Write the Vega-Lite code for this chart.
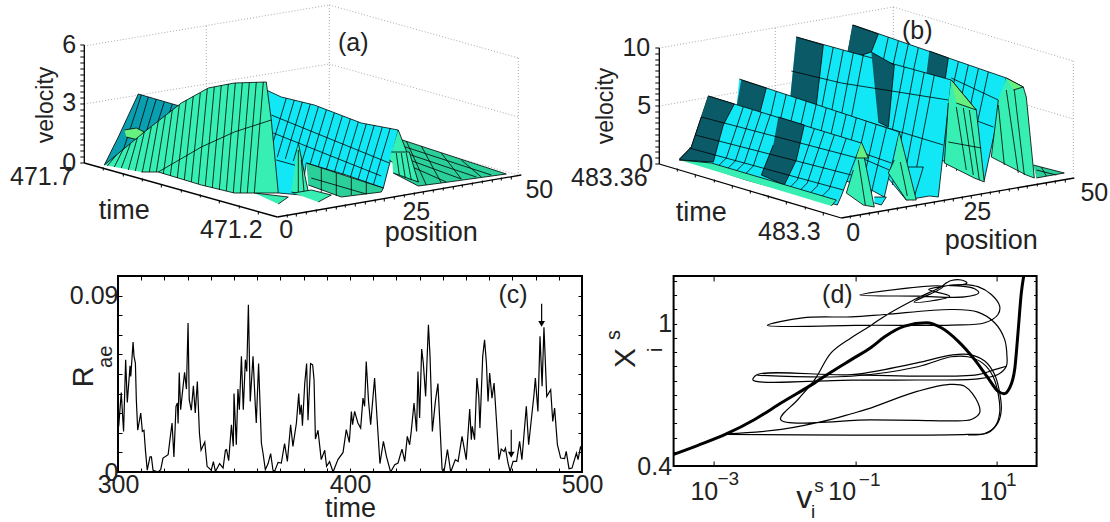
{"$schema":"https://vega.github.io/schema/vega-lite/v6.json","background":"white","padding":{"left":10,"top":0,"right":0,"bottom":0},"bounds":"flush","columns":2,"spacing":{"row":16,"column":91.6},"config":{"font":"Liberation Sans","view":{"stroke":null},"text":{"font":"Liberation Sans","color":"#222"}},
"datasets":{
"aGrid":[{"x":83,"y":46,"x2":328,"y2":5},{"x":328,"y":5,"x2":517,"y2":58},{"x":83,"y":104,"x2":328,"y2":64},{"x":328,"y":64,"x2":517,"y2":117},{"x":328,"y":122,"x2":517,"y2":175},{"x":517,"y":58,"x2":517,"y2":175},{"x":328,"y":5,"x2":328,"y2":122},{"x":205,"y":26,"x2":205,"y2":100}],
"aAxis":[{"x":83,"y":45,"x2":83,"y2":163},{"x":83,"y":163,"x2":276,"y2":217},{"x":276,"y":217,"x2":520,"y2":175}],
"aTickV":[{"x":81,"y":45},{"x":81,"y":51},{"x":81,"y":57},{"x":81,"y":63},{"x":81,"y":69},{"x":81,"y":75},{"x":81,"y":81},{"x":81,"y":86},{"x":81,"y":92},{"x":81,"y":98},{"x":81,"y":104},{"x":81,"y":110},{"x":81,"y":116},{"x":81,"y":122},{"x":81,"y":128},{"x":81,"y":134},{"x":81,"y":140},{"x":81,"y":145},{"x":81,"y":151},{"x":81,"y":157},{"x":81,"y":163}],
"aTickH":[{"x":102,"y":169},{"x":122,"y":175},{"x":141,"y":180},{"x":160,"y":186},{"x":180,"y":191},{"x":199,"y":196},{"x":218,"y":202},{"x":238,"y":207},{"x":257,"y":213},{"x":286,"y":216},{"x":295,"y":215},{"x":305,"y":213},{"x":315,"y":211},{"x":325,"y":210},{"x":335,"y":208},{"x":344,"y":206},{"x":354,"y":205},{"x":364,"y":203},{"x":374,"y":201},{"x":383,"y":200},{"x":393,"y":198},{"x":403,"y":196},{"x":413,"y":194},{"x":422,"y":193},{"x":432,"y":191},{"x":442,"y":189},{"x":452,"y":188},{"x":461,"y":186},{"x":471,"y":184},{"x":481,"y":182},{"x":491,"y":181},{"x":500,"y":179},{"x":510,"y":178}],
"aSurf":[
{"i":1,"c":"f","x":398,"y":139},{"i":1,"c":"f","x":505,"y":174},{"i":1,"c":"f","x":440,"y":183},{"i":1,"c":"f","x":417,"y":186},{"i":1,"c":"f","x":392,"y":173},
{"i":2,"c":"n","x":398,"y":145},{"i":2,"c":"n","x":490,"y":175},{"i":3,"c":"n","x":398,"y":151},{"i":3,"c":"n","x":475,"y":177},{"i":4,"c":"n","x":400,"y":157},{"i":4,"c":"n","x":460,"y":179},{"i":5,"c":"n","x":402,"y":163},{"i":5,"c":"n","x":445,"y":182},{"i":6,"c":"n","x":440,"y":183},{"i":6,"c":"n","x":420,"y":146},{"i":7,"c":"n","x":460,"y":179},{"i":7,"c":"n","x":440,"y":153},{"i":8,"c":"n","x":480,"y":177},{"i":8,"c":"n","x":460,"y":160},{"i":9,"c":"n","x":425,"y":185},{"i":9,"c":"n","x":405,"y":141},
{"i":10,"c":"e","x":103,"y":165},{"i":10,"c":"e","x":117,"y":137},{"i":10,"c":"e","x":137,"y":94},{"i":10,"c":"e","x":185,"y":108},{"i":10,"c":"e","x":200,"y":165},
{"i":11,"c":"n","x":140,"y":95},{"i":11,"c":"n","x":122,"y":150},{"i":12,"c":"n","x":147,"y":97},{"i":12,"c":"n","x":130,"y":155},{"i":13,"c":"n","x":155,"y":99},{"i":13,"c":"n","x":138,"y":155},{"i":14,"c":"n","x":163,"y":102},{"i":14,"c":"n","x":146,"y":155},{"i":15,"c":"n","x":171,"y":104},{"i":15,"c":"n","x":154,"y":155},{"i":16,"c":"n","x":179,"y":106},{"i":16,"c":"n","x":162,"y":155},
{"i":17,"c":"l","x":123,"y":130},{"i":17,"c":"l","x":135,"y":128},{"i":17,"c":"l","x":147,"y":134},{"i":17,"c":"l","x":137,"y":140},{"i":17,"c":"l","x":125,"y":137},
{"i":18,"c":"c","x":265,"y":90},{"i":18,"c":"c","x":280,"y":97},{"i":18,"c":"c","x":313,"y":105},{"i":18,"c":"c","x":360,"y":123},{"i":18,"c":"c","x":397,"y":130},{"i":18,"c":"c","x":382,"y":188},{"i":18,"c":"c","x":345,"y":175},{"i":18,"c":"c","x":305,"y":163},{"i":18,"c":"c","x":300,"y":195},{"i":18,"c":"c","x":277,"y":193},
{"i":19,"c":"n","x":285,"y":98},{"i":19,"c":"n","x":268,"y":155},{"i":20,"c":"n","x":293,"y":100},{"i":20,"c":"n","x":276,"y":157},{"i":21,"c":"n","x":301,"y":102},{"i":21,"c":"n","x":284,"y":159},{"i":22,"c":"n","x":309,"y":104},{"i":22,"c":"n","x":292,"y":161},{"i":23,"c":"n","x":317,"y":107},{"i":23,"c":"n","x":300,"y":164},{"i":24,"c":"n","x":325,"y":110},{"i":24,"c":"n","x":308,"y":167},{"i":25,"c":"n","x":333,"y":113},{"i":25,"c":"n","x":316,"y":170},{"i":26,"c":"n","x":341,"y":116},{"i":26,"c":"n","x":324,"y":173},{"i":27,"c":"n","x":349,"y":119},{"i":27,"c":"n","x":332,"y":176},{"i":28,"c":"n","x":357,"y":122},{"i":28,"c":"n","x":340,"y":179},{"i":29,"c":"n","x":365,"y":124},{"i":29,"c":"n","x":348,"y":181},{"i":30,"c":"n","x":373,"y":125},{"i":30,"c":"n","x":356,"y":182},{"i":31,"c":"n","x":381,"y":127},{"i":31,"c":"n","x":364,"y":184},{"i":32,"c":"n","x":389,"y":128},{"i":32,"c":"n","x":372,"y":185},
{"i":34,"c":"n","x":270,"y":115},{"i":34,"c":"n","x":388,"y":163},{"i":35,"c":"n","x":272,"y":133},{"i":35,"c":"n","x":380,"y":176},{"i":36,"c":"n","x":275,"y":160},{"i":36,"c":"n","x":300,"y":167},
{"i":37,"c":"f","x":305,"y":163},{"i":37,"c":"f","x":382,"y":188},{"i":37,"c":"f","x":380,"y":192},{"i":37,"c":"f","x":340,"y":197},{"i":37,"c":"f","x":307,"y":185},
{"i":38,"c":"n","x":310,"y":178},{"i":38,"c":"n","x":365,"y":194},{"i":39,"c":"n","x":320,"y":168},{"i":39,"c":"n","x":320,"y":192},{"i":40,"c":"n","x":335,"y":173},{"i":40,"c":"n","x":335,"y":196},{"i":41,"c":"n","x":350,"y":178},{"i":41,"c":"n","x":350,"y":195},{"i":42,"c":"n","x":365,"y":183},{"i":42,"c":"n","x":365,"y":194},
{"i":47,"c":"g","x":397,"y":130},{"i":47,"c":"g","x":417,"y":182},{"i":47,"c":"g","x":388,"y":160},
{"i":43,"c":"g","x":390,"y":152},{"i":43,"c":"g","x":408,"y":152},{"i":43,"c":"g","x":417,"y":182},{"i":43,"c":"g","x":392,"y":173},
{"i":44,"c":"n","x":395,"y":153},{"i":44,"c":"n","x":398,"y":175},{"i":45,"c":"n","x":400,"y":153},{"i":45,"c":"n","x":404,"y":178},{"i":46,"c":"n","x":405,"y":153},{"i":46,"c":"n","x":410,"y":180},
{"i":48,"c":"g","x":297,"y":143},{"i":48,"c":"g","x":308,"y":197},{"i":48,"c":"g","x":290,"y":192},
{"i":49,"c":"n","x":297,"y":150},{"i":49,"c":"n","x":297,"y":192},{"i":51,"c":"n","x":300,"y":160},{"i":51,"c":"n","x":303,"y":195},
{"i":50,"c":"g","x":292,"y":193},{"i":50,"c":"g","x":310,"y":190},{"i":50,"c":"g","x":330,"y":195},{"i":50,"c":"g","x":317,"y":202},
{"i":52,"c":"g","x":253,"y":193},{"i":52,"c":"g","x":287,"y":197},{"i":52,"c":"g","x":277,"y":204},
{"i":53,"c":"g","x":103,"y":165},{"i":53,"c":"g","x":143,"y":132},{"i":53,"c":"g","x":180,"y":103},{"i":53,"c":"g","x":207,"y":88},{"i":53,"c":"g","x":233,"y":83},{"i":53,"c":"g","x":265,"y":82},{"i":53,"c":"g","x":270,"y":120},{"i":53,"c":"g","x":277,"y":193},{"i":53,"c":"g","x":233,"y":193},{"i":53,"c":"g","x":200,"y":185},{"i":53,"c":"g","x":157,"y":172},{"i":53,"c":"g","x":140,"y":172},
{"i":55,"c":"n","x":115,"y":155},{"i":55,"c":"n","x":106,"y":166},{"i":56,"c":"n","x":122,"y":149},{"i":56,"c":"n","x":113,"y":167},{"i":57,"c":"n","x":129,"y":144},{"i":57,"c":"n","x":120,"y":168},{"i":58,"c":"n","x":136,"y":138},{"i":58,"c":"n","x":127,"y":170},{"i":59,"c":"n","x":143,"y":132},{"i":59,"c":"n","x":134,"y":171},{"i":60,"c":"n","x":150,"y":127},{"i":60,"c":"n","x":141,"y":172},{"i":61,"c":"n","x":157,"y":121},{"i":61,"c":"n","x":148,"y":172},{"i":62,"c":"n","x":164,"y":116},{"i":62,"c":"n","x":155,"y":172},{"i":63,"c":"n","x":171,"y":110},{"i":63,"c":"n","x":162,"y":174},{"i":64,"c":"n","x":178,"y":105},{"i":64,"c":"n","x":169,"y":176},{"i":65,"c":"n","x":185,"y":100},{"i":65,"c":"n","x":176,"y":178},{"i":66,"c":"n","x":192,"y":96},{"i":66,"c":"n","x":183,"y":180},{"i":67,"c":"n","x":199,"y":93},{"i":67,"c":"n","x":190,"y":182},{"i":68,"c":"n","x":206,"y":89},{"i":68,"c":"n","x":197,"y":184},{"i":69,"c":"n","x":213,"y":87},{"i":69,"c":"n","x":204,"y":186},{"i":70,"c":"n","x":220,"y":85},{"i":70,"c":"n","x":211,"y":188},{"i":71,"c":"n","x":227,"y":84},{"i":71,"c":"n","x":218,"y":190},{"i":72,"c":"n","x":234,"y":83},{"i":72,"c":"n","x":225,"y":191},{"i":73,"c":"n","x":241,"y":83},{"i":73,"c":"n","x":232,"y":193},{"i":74,"c":"n","x":248,"y":83},{"i":74,"c":"n","x":239,"y":193},{"i":75,"c":"n","x":255,"y":82},{"i":75,"c":"n","x":246,"y":193},{"i":76,"c":"n","x":262,"y":82},{"i":76,"c":"n","x":253,"y":193},
{"i":54,"c":"n","x":157,"y":172},{"i":54,"c":"n","x":200,"y":147},{"i":54,"c":"n","x":233,"y":132},{"i":54,"c":"n","x":270,"y":120}],
"aText":[{"x":68,"y":45,"t":"6"},{"x":68,"y":103,"t":"3"},{"x":68,"y":163,"t":"0"},{"x":40,"y":177,"t":"471.7"},{"x":230,"y":230,"t":"471.2"},{"x":285,"y":230,"t":"0"},{"x":415,"y":212,"t":"25"},{"x":538,"y":190,"t":"50"},{"x":352,"y":43,"t":"(a)"}],
"aWord":[{"x":123,"y":211,"t":"time"},{"x":430,"y":233,"t":"position"}],
"aRot":[{"x":45,"y":105,"t":"velocity"}],
"bGrid":[{"x":658,"y":48,"x2":892,"y2":7},{"x":892,"y":7,"x2":1072,"y2":61},{"x":658,"y":106,"x2":892,"y2":65},{"x":892,"y":65,"x2":1072,"y2":119},{"x":1072,"y":61,"x2":1072,"y2":175},{"x":892,"y":7,"x2":892,"y2":60},{"x":774,"y":28,"x2":774,"y2":93}],
"bAxis":[{"x":658,"y":48,"x2":658,"y2":164},{"x":658,"y":164,"x2":840,"y2":218},{"x":840,"y":218,"x2":1073,"y2":178}],
"bTickV":[{"x":656,"y":48},{"x":656,"y":54},{"x":656,"y":60},{"x":656,"y":65},{"x":656,"y":71},{"x":656,"y":77},{"x":656,"y":83},{"x":656,"y":89},{"x":656,"y":94},{"x":656,"y":100},{"x":656,"y":106},{"x":656,"y":112},{"x":656,"y":118},{"x":656,"y":123},{"x":656,"y":129},{"x":656,"y":135},{"x":656,"y":141},{"x":656,"y":147},{"x":656,"y":152},{"x":656,"y":158},{"x":656,"y":164}],
"bTickH":[{"x":676,"y":170},{"x":694,"y":176},{"x":713,"y":181},{"x":731,"y":187},{"x":749,"y":192},{"x":767,"y":197},{"x":785,"y":203},{"x":804,"y":208},{"x":822,"y":214},{"x":849,"y":217},{"x":859,"y":216},{"x":868,"y":214},{"x":877,"y":213},{"x":887,"y":211},{"x":896,"y":209},{"x":905,"y":208},{"x":915,"y":206},{"x":924,"y":205},{"x":933,"y":203},{"x":943,"y":201},{"x":952,"y":200},{"x":961,"y":198},{"x":970,"y":197},{"x":980,"y":195},{"x":989,"y":193},{"x":998,"y":192},{"x":1008,"y":190},{"x":1017,"y":189},{"x":1026,"y":187},{"x":1036,"y":185},{"x":1045,"y":184},{"x":1054,"y":182},{"x":1064,"y":181}],
"bSurf":[
{"i":1,"c":"f","x":1032,"y":165},{"i":1,"c":"f","x":1063,"y":173},{"i":1,"c":"f","x":1035,"y":178},
{"i":2,"c":"n","x":1035,"y":170},{"i":2,"c":"n","x":1055,"y":175},{"i":3,"c":"n","x":1045,"y":176},{"i":3,"c":"n","x":1040,"y":167},
{"i":10,"c":"c","x":843,"y":70},{"i":10,"c":"c","x":852,"y":25},{"i":10,"c":"c","x":1005,"y":78},{"i":10,"c":"c","x":983,"y":180},{"i":10,"c":"c","x":960,"y":170},{"i":10,"c":"c","x":843,"y":110},
{"i":11,"c":"d","x":851,"y":25},{"i":11,"c":"d","x":877,"y":34},{"i":11,"c":"d","x":870,"y":52},{"i":11,"c":"d","x":845,"y":60},
{"i":12,"c":"d","x":928,"y":51},{"i":12,"c":"d","x":947,"y":58},{"i":12,"c":"d","x":943,"y":85},{"i":12,"c":"d","x":925,"y":75},
{"i":13,"c":"n","x":887,"y":37},{"i":13,"c":"n","x":865,"y":139},{"i":14,"c":"n","x":897,"y":41},{"i":14,"c":"n","x":875,"y":143},{"i":15,"c":"n","x":907,"y":44},{"i":15,"c":"n","x":885,"y":146},{"i":16,"c":"n","x":917,"y":48},{"i":16,"c":"n","x":895,"y":150},{"i":17,"c":"n","x":957,"y":62},{"i":17,"c":"n","x":935,"y":164},{"i":18,"c":"n","x":967,"y":65},{"i":18,"c":"n","x":945,"y":167},{"i":19,"c":"n","x":977,"y":69},{"i":19,"c":"n","x":955,"y":171},{"i":20,"c":"n","x":987,"y":72},{"i":20,"c":"n","x":965,"y":174},
{"i":21,"c":"n","x":950,"y":78},{"i":21,"c":"n","x":997,"y":100},{"i":22,"c":"n","x":960,"y":115},{"i":22,"c":"n","x":992,"y":127},
{"i":23,"c":"g","x":1005,"y":78},{"i":23,"c":"g","x":1022,"y":87},{"i":23,"c":"g","x":1025,"y":97},{"i":23,"c":"g","x":1033,"y":178},{"i":23,"c":"g","x":1025,"y":175},{"i":23,"c":"g","x":990,"y":157},{"i":23,"c":"g","x":997,"y":100},
{"i":24,"c":"l","x":1005,"y":78},{"i":24,"c":"l","x":1022,"y":87},{"i":24,"c":"l","x":1012,"y":90},
{"i":25,"c":"n","x":1005,"y":90},{"i":25,"c":"n","x":1017,"y":173},{"i":26,"c":"n","x":1013,"y":90},{"i":26,"c":"n","x":1023,"y":175},{"i":27,"c":"n","x":997,"y":105},{"i":27,"c":"n","x":1003,"y":165},
{"i":30,"c":"c","x":795,"y":37},{"i":30,"c":"c","x":950,"y":80},{"i":30,"c":"c","x":937,"y":197},{"i":30,"c":"c","x":928,"y":196},{"i":30,"c":"c","x":905,"y":200},{"i":30,"c":"c","x":880,"y":170},{"i":30,"c":"c","x":800,"y":130},{"i":30,"c":"c","x":789,"y":97},
{"i":31,"c":"d","x":795,"y":37},{"i":31,"c":"d","x":822,"y":45},{"i":31,"c":"d","x":815,"y":105},{"i":31,"c":"d","x":789,"y":97},
{"i":32,"c":"d","x":870,"y":52},{"i":32,"c":"d","x":893,"y":65},{"i":32,"c":"d","x":887,"y":127},{"i":32,"c":"d","x":877,"y":122},
{"i":33,"c":"n","x":832,"y":47},{"i":33,"c":"n","x":810,"y":162},{"i":34,"c":"n","x":842,"y":50},{"i":34,"c":"n","x":820,"y":165},{"i":35,"c":"n","x":852,"y":53},{"i":35,"c":"n","x":830,"y":168},{"i":36,"c":"n","x":862,"y":55},{"i":36,"c":"n","x":840,"y":170},{"i":37,"c":"n","x":903,"y":67},{"i":37,"c":"n","x":881,"y":182},{"i":38,"c":"n","x":913,"y":70},{"i":38,"c":"n","x":891,"y":185},{"i":39,"c":"n","x":923,"y":72},{"i":39,"c":"n","x":901,"y":187},{"i":40,"c":"n","x":933,"y":75},{"i":40,"c":"n","x":911,"y":190},
{"i":41,"c":"n","x":790,"y":71},{"i":41,"c":"n","x":840,"y":83},{"i":41,"c":"n","x":947,"y":100},{"i":42,"c":"n","x":795,"y":100},{"i":42,"c":"n","x":942,"y":145},
{"i":43,"c":"g","x":950,"y":80},{"i":43,"c":"g","x":975,"y":110},{"i":43,"c":"g","x":983,"y":182},{"i":43,"c":"g","x":973,"y":178},{"i":43,"c":"g","x":943,"y":163},{"i":43,"c":"g","x":947,"y":103},
{"i":44,"c":"l","x":950,"y":80},{"i":44,"c":"l","x":975,"y":110},{"i":44,"c":"l","x":955,"y":103},
{"i":45,"c":"n","x":955,"y":107},{"i":45,"c":"n","x":965,"y":170},{"i":46,"c":"n","x":962,"y":108},{"i":46,"c":"n","x":972,"y":175},{"i":47,"c":"n","x":968,"y":110},{"i":47,"c":"n","x":978,"y":180},{"i":48,"c":"n","x":947,"y":142},{"i":48,"c":"n","x":980,"y":148},
{"i":50,"c":"c","x":903,"y":167},{"i":50,"c":"c","x":922,"y":167},{"i":50,"c":"c","x":912,"y":200},{"i":50,"c":"c","x":905,"y":197},
{"i":51,"c":"c","x":738,"y":79},{"i":51,"c":"c","x":898,"y":132},{"i":51,"c":"c","x":883,"y":197},{"i":51,"c":"c","x":870,"y":190},{"i":51,"c":"c","x":800,"y":165},{"i":51,"c":"c","x":735,"y":110},
{"i":52,"c":"d","x":740,"y":80},{"i":52,"c":"d","x":765,"y":88},{"i":52,"c":"d","x":758,"y":115},{"i":52,"c":"d","x":735,"y":108},
{"i":53,"c":"n","x":775,"y":91},{"i":53,"c":"n","x":760,"y":156},{"i":54,"c":"n","x":785,"y":94},{"i":54,"c":"n","x":770,"y":159},{"i":55,"c":"n","x":795,"y":98},{"i":55,"c":"n","x":780,"y":163},{"i":56,"c":"n","x":805,"y":101},{"i":56,"c":"n","x":790,"y":166},{"i":57,"c":"n","x":815,"y":104},{"i":57,"c":"n","x":800,"y":169},{"i":58,"c":"n","x":825,"y":108},{"i":58,"c":"n","x":810,"y":173},{"i":59,"c":"n","x":835,"y":111},{"i":59,"c":"n","x":820,"y":176},{"i":60,"c":"n","x":845,"y":114},{"i":60,"c":"n","x":830,"y":179},{"i":61,"c":"n","x":855,"y":118},{"i":61,"c":"n","x":840,"y":183},{"i":62,"c":"n","x":865,"y":121},{"i":62,"c":"n","x":850,"y":186},{"i":63,"c":"n","x":875,"y":124},{"i":63,"c":"n","x":860,"y":189},{"i":64,"c":"n","x":885,"y":128},{"i":64,"c":"n","x":870,"y":193},
{"i":65,"c":"n","x":738,"y":110},{"i":65,"c":"n","x":890,"y":163},{"i":66,"c":"n","x":760,"y":115},{"i":66,"c":"n","x":888,"y":170},
{"i":67,"c":"g","x":898,"y":132},{"i":67,"c":"g","x":915,"y":200},{"i":67,"c":"g","x":905,"y":200},{"i":67,"c":"g","x":887,"y":173},{"i":67,"c":"g","x":893,"y":160},
{"i":68,"c":"n","x":899,"y":162},{"i":68,"c":"n","x":906,"y":196},
{"i":69,"c":"c","x":873,"y":197},{"i":69,"c":"c","x":885,"y":197},{"i":69,"c":"c","x":880,"y":205},{"i":69,"c":"c","x":873,"y":203},
{"i":70,"c":"c","x":678,"y":159},{"i":70,"c":"c","x":690,"y":147},{"i":70,"c":"c","x":700,"y":117},{"i":70,"c":"c","x":707,"y":96},{"i":70,"c":"c","x":860,"y":143},{"i":70,"c":"c","x":840,"y":196},{"i":70,"c":"c","x":836,"y":205},{"i":70,"c":"c","x":745,"y":180},{"i":70,"c":"c","x":700,"y":165},
{"i":71,"c":"d","x":707,"y":96},{"i":71,"c":"d","x":733,"y":104},{"i":71,"c":"d","x":722,"y":125},{"i":71,"c":"d","x":712,"y":162},{"i":71,"c":"d","x":678,"y":160},{"i":71,"c":"d","x":690,"y":147},{"i":71,"c":"d","x":700,"y":117},
{"i":72,"c":"d","x":777,"y":117},{"i":72,"c":"d","x":803,"y":125},{"i":72,"c":"d","x":795,"y":160},{"i":72,"c":"d","x":783,"y":185},{"i":72,"c":"d","x":760,"y":175},{"i":72,"c":"d","x":772,"y":145},
{"i":73,"c":"n","x":742,"y":107},{"i":73,"c":"n","x":725,"y":158},{"i":73,"c":"n","x":713,"y":170},{"i":74,"c":"n","x":751,"y":110},{"i":74,"c":"n","x":734,"y":161},{"i":74,"c":"n","x":722,"y":173},{"i":75,"c":"n","x":760,"y":112},{"i":75,"c":"n","x":743,"y":163},{"i":75,"c":"n","x":731,"y":175},{"i":76,"c":"n","x":769,"y":115},{"i":76,"c":"n","x":752,"y":166},{"i":76,"c":"n","x":740,"y":178},{"i":77,"c":"n","x":813,"y":129},{"i":77,"c":"n","x":796,"y":180},{"i":77,"c":"n","x":784,"y":192},{"i":78,"c":"n","x":823,"y":132},{"i":78,"c":"n","x":806,"y":183},{"i":78,"c":"n","x":794,"y":195},{"i":79,"c":"n","x":833,"y":135},{"i":79,"c":"n","x":816,"y":186},{"i":79,"c":"n","x":804,"y":198},{"i":80,"c":"n","x":845,"y":138},{"i":80,"c":"n","x":828,"y":189},{"i":80,"c":"n","x":816,"y":201},
{"i":81,"c":"n","x":700,"y":117},{"i":81,"c":"n","x":856,"y":158},{"i":82,"c":"n","x":694,"y":135},{"i":82,"c":"n","x":850,"y":175},{"i":83,"c":"n","x":688,"y":148},{"i":83,"c":"n","x":842,"y":190},
{"i":84,"c":"g","x":678,"y":160},{"i":84,"c":"g","x":710,"y":163},{"i":84,"c":"g","x":835,"y":200},{"i":84,"c":"g","x":830,"y":206},
{"i":85,"c":"g","x":860,"y":143},{"i":85,"c":"g","x":873,"y":207},{"i":85,"c":"g","x":862,"y":205},{"i":85,"c":"g","x":845,"y":193},{"i":85,"c":"g","x":852,"y":170},
{"i":86,"c":"l","x":860,"y":142},{"i":86,"c":"l","x":867,"y":158},{"i":86,"c":"l","x":855,"y":158},
{"i":87,"c":"n","x":857,"y":160},{"i":87,"c":"n","x":864,"y":205}],
"bText":[{"x":635,"y":48,"t":"10"},{"x":643,"y":106,"t":"5"},{"x":645,"y":164,"t":"0"},{"x":608,"y":178,"t":"483.36"},{"x":788,"y":232,"t":"483.3"},{"x":852,"y":233,"t":"0"},{"x":976,"y":212,"t":"25"},{"x":1093,"y":193,"t":"50"},{"x":916,"y":31,"t":"(b)"}],
"bWord":[{"x":700,"y":213,"t":"time"},{"x":990,"y":241,"t":"position"}],
"bRot":[{"x":605,"y":106,"t":"velocity"}],
"c":[{"t":300.3,"R":0.0233},{"t":301.4,"R":0.0406},{"t":302.4,"R":0.0207},{"t":303.3,"R":0.0572},{"t":304,"R":0.0355},{"t":305.2,"R":0.0542},{"t":305.5,"R":0.0488},{"t":306.5,"R":0.0663},{"t":306.9,"R":0.059},{"t":307.5,"R":0.0556},{"t":307.9,"R":0.0369},{"t":308.5,"R":0.0213},{"t":309.8,"R":0.0301},{"t":310.5,"R":0.0207},{"t":311.2,"R":0.0213},{"t":311.8,"R":0.0114},{"t":312.6,"R":0.0009},{"t":313.8,"R":0.0077},{"t":314.4,"R":0.0077},{"t":315.1,"R":0.0009},{"t":316.1,"R":0.0005},{"t":317.2,"R":0},{"t":318.4,"R":0.0012},{"t":319.4,"R":0.0071},{"t":321.6,"R":0.0088},{"t":322.3,"R":0.0156},{"t":323.3,"R":0.025},{"t":324.1,"R":0.0077},{"t":325,"R":0.0335},{"t":325.6,"R":0.0352},{"t":325.9,"R":0.0247},{"t":326.4,"R":0.0508},{"t":327,"R":0.0318},{"t":327.9,"R":0.042},{"t":328.7,"R":0.0508},{"t":329.5,"R":0.0423},{"t":330.2,"R":0.076},{"t":330.7,"R":0.0369},{"t":331.6,"R":0.0315},{"t":332.5,"R":0.044},{"t":333.3,"R":0.0301},{"t":334.2,"R":0.0462},{"t":335.1,"R":0.0199},{"t":335.8,"R":0.0111},{"t":337.4,"R":0.0153},{"t":338.4,"R":0.0029},{"t":340.2,"R":0.0009},{"t":341.1,"R":0.0053},{"t":342,"R":0.0003},{"t":343.8,"R":0.0043},{"t":345.3,"R":0.002},{"t":346.3,"R":0.0111},{"t":346.8,"R":0.0114},{"t":347.7,"R":0.0058},{"t":348.9,"R":0.0241},{"t":349.7,"R":0.0131},{"t":350,"R":0.04},{"t":351,"R":0.0139},{"t":351.7,"R":0.0423},{"t":352.3,"R":0.0318},{"t":353.2,"R":0.059},{"t":354,"R":0.0318},{"t":354.9,"R":0.0573},{"t":355.5,"R":0.0513},{"t":356.2,"R":0.0853},{"t":357,"R":0.036},{"t":358.2,"R":0.059},{"t":359.2,"R":0.0335},{"t":359.6,"R":0.025},{"t":360.6,"R":0.0553},{"t":361.8,"R":0.0148},{"t":362.5,"R":0.0097},{"t":363.5,"R":0.0012},{"t":364.7,"R":0.0043},{"t":365.8,"R":0.0094},{"t":366.8,"R":0.0009},{"t":367.5,"R":0.0003},{"t":369,"R":0.0049},{"t":370.4,"R":0.0046},{"t":371.8,"R":0.0145},{"t":373,"R":0.0054},{"t":374.4,"R":0.0241},{"t":375.4,"R":0.0131},{"t":376.9,"R":0.025},{"t":377.9,"R":0.04},{"t":378.4,"R":0.0292},{"t":379,"R":0.0343},{"t":379.5,"R":0.0236},{"t":380.5,"R":0.0454},{"t":381.3,"R":0.0553},{"t":381.9,"R":0.0264},{"t":383,"R":0.0553},{"t":383.9,"R":0.0547},{"t":384.5,"R":0.0471},{"t":385.1,"R":0.0168},{"t":386.2,"R":0.0213},{"t":387.6,"R":0.0063},{"t":389.1,"R":0.0111},{"t":389.9,"R":0.0029},{"t":391.2,"R":0.0053},{"t":392.7,"R":0},{"t":394.8,"R":0.0063},{"t":397,"R":0.01},{"t":398.4,"R":0.0216},{"t":399.7,"R":0.0151},{"t":400.6,"R":0.0309},{"t":401.1,"R":0.0241},{"t":402,"R":0.0309},{"t":403.4,"R":0.025},{"t":404.6,"R":0.0224},{"t":405.6,"R":0.0377},{"t":406.3,"R":0.0335},{"t":407,"R":0.0564},{"t":408,"R":0.036},{"t":408.9,"R":0.0241},{"t":410.6,"R":0.0479},{"t":411.6,"R":0.0284},{"t":412.9,"R":0.0043},{"t":414.4,"R":0.0156},{"t":415.7,"R":0.008},{"t":417.5,"R":0},{"t":419.3,"R":0.0037},{"t":420.7,"R":0.0046},{"t":422.4,"R":0.0117},{"t":423.6,"R":0.0054},{"t":424.7,"R":0.0182},{"t":425.7,"R":0.0139},{"t":426.4,"R":0.0207},{"t":427.6,"R":0.0352},{"t":428.7,"R":0.0207},{"t":429.3,"R":0.0513},{"t":430,"R":0.0275},{"t":430.9,"R":0.0627},{"t":431.6,"R":0.0556},{"t":432.6,"R":0.0386},{"t":433.8,"R":0.0751},{"t":434.5,"R":0.059},{"t":435.5,"R":0.0207},{"t":436.8,"R":0.036},{"t":437.9,"R":0.0451},{"t":439.7,"R":0.0012},{"t":440.5,"R":0},{"t":442,"R":0.0114},{"t":443.4,"R":0},{"t":445.4,"R":0.0063},{"t":446.6,"R":0.0054},{"t":448.3,"R":0.0182},{"t":450.1,"R":0.0063},{"t":451.6,"R":0.0321},{"t":452.3,"R":0.0165},{"t":452.7,"R":0.0233},{"t":453.7,"R":0.0165},{"t":454.7,"R":0.0479},{"t":455.5,"R":0.0386},{"t":456,"R":0.0224},{"t":457.2,"R":0.059},{"t":458,"R":0.0675},{"t":458.8,"R":0.0556},{"t":459.5,"R":0.036},{"t":460.2,"R":0.0505},{"t":461.2,"R":0.0377},{"t":462.1,"R":0.0454},{"t":463.2,"R":0.025},{"t":464.2,"R":0.0063},{"t":465.2,"R":0.0117},{"t":466.4,"R":0.0105},{"t":467,"R":0.0122},{"t":468.1,"R":0.0046},{"t":469,"R":0.0003},{"t":470.3,"R":0.0054},{"t":471.8,"R":0.0054},{"t":473.1,"R":0.0156},{"t":474.1,"R":0.0063},{"t":476,"R":0.0335},{"t":477,"R":0.0139},{"t":479.3,"R":0.0394},{"t":479.9,"R":0.0479},{"t":481,"R":0.0309},{"t":481.9,"R":0.0692},{"t":482.8,"R":0.0437},{"t":483.6,"R":0.0738},{"t":484.8,"R":0.0386},{"t":486.5,"R":0.042},{"t":487.4,"R":0.0258},{"t":488.2,"R":0.0326},{"t":489.4,"R":0.0139},{"t":490.8,"R":0.0071},{"t":492.5,"R":0.0068},{"t":493.2,"R":0.0105},{"t":494.4,"R":0.0017},{"t":495.7,"R":0.002},{"t":497.6,"R":0.0097},{"t":498.3,"R":0.0063},{"t":499.4,"R":0.0131},{"t":500,"R":0.0105}],
"cArrow":[{"t":482.6,"R":0.0858,"tip":0.0756},{"t":469.5,"R":0.0216,"tip":0.0088}],
"dThick":[{"L":-3.57,"X":0.449},{"L":-3.226,"X":0.487},{"L":-2.826,"X":0.535},{"L":-2.425,"X":0.596},{"L":-2.048,"X":0.666},{"L":-1.577,"X":0.75},{"L":-1.342,"X":0.796},{"L":-1.059,"X":0.848},{"L":-0.776,"X":0.9},{"L":-0.588,"X":0.944},{"L":-0.305,"X":0.989},{"L":0.001,"X":1.003},{"L":0.213,"X":0.982},{"L":0.449,"X":0.926},{"L":0.684,"X":0.848},{"L":0.873,"X":0.771},{"L":1.014,"X":0.715},{"L":1.099,"X":0.704},{"L":1.179,"X":0.729},{"L":1.25,"X":0.806},{"L":1.297,"X":0.961},{"L":1.344,"X":1.129},{"L":1.377,"X":1.199}],
"dThin":[
{"s":1,"L":-2.825,"X":0.535},{"s":1,"L":-2.048,"X":0.554},{"s":1,"L":-1.342,"X":0.596},{"s":1,"L":-1.059,"X":0.62},{"s":1,"L":-0.776,"X":0.645},{"s":1,"L":-0.588,"X":0.666},{"s":1,"L":-0.117,"X":0.715},{"s":1,"L":0.307,"X":0.743},{"s":1,"L":0.543,"X":0.736},{"s":1,"L":0.731,"X":0.666},{"s":1,"L":0.755,"X":0.624},{"s":1,"L":0.637,"X":0.596},{"s":1,"L":0.354,"X":0.59},{"s":1,"L":-0.117,"X":0.592},{"s":1,"L":-0.776,"X":0.594},{"s":1,"L":-2.058,"X":0.596},{"s":1,"L":-1.813,"X":0.68},{"s":1,"L":-1.577,"X":0.764},{"s":1,"L":-1.342,"X":0.877},{"s":1,"L":-1.059,"X":0.94},{"s":1,"L":-0.776,"X":0.993},{"s":1,"L":-0.588,"X":1.031},{"s":1,"L":-0.164,"X":1.101},{"s":1,"L":0.213,"X":1.155},{"s":1,"L":0.284,"X":1.171},{"s":1,"L":0.354,"X":1.181},{"s":1,"L":0.496,"X":1.183},{"s":1,"L":0.576,"X":1.171},{"s":1,"L":0.496,"X":1.162},{"s":1,"L":0.307,"X":1.16},{"s":1,"L":0.237,"X":1.156},{"s":1,"L":0.034,"X":1.143},{"s":1,"L":0.331,"X":1.115},{"s":1,"L":-0.173,"X":1.09},{"s":1,"L":0.237,"X":1.155},{"s":1,"L":-0.941,"X":1.12},{"s":1,"L":-0.117,"X":1.115},{"s":1,"L":0.543,"X":1.112},{"s":1,"L":0.741,"X":1.129},{"s":1,"L":0.684,"X":1.146},{"s":1,"L":0.496,"X":1.157},{"s":1,"L":0.307,"X":1.16},{"s":1,"L":0.543,"X":1.164},{"s":1,"L":0.731,"X":1.155},{"s":1,"L":0.92,"X":1.122},{"s":1,"L":1.038,"X":1.073},{"s":1,"L":1.014,"X":1.038},{"s":1,"L":0.826,"X":1.003},{"s":1,"L":0.354,"X":0.993},{"s":1,"L":-0.776,"X":0.993},{"s":1,"L":-2.246,"X":0.992},{"s":1,"L":-1.747,"X":1.024},{"s":1,"L":-1.059,"X":1.028},{"s":1,"L":-0.588,"X":1.038},{"s":1,"L":0.354,"X":1.059},{"s":1,"L":0.731,"X":1.048},{"s":1,"L":0.967,"X":1.003},{"s":1,"L":1.108,"X":0.933},{"s":1,"L":1.141,"X":0.863},{"s":1,"L":1.132,"X":0.82},{"s":1,"L":1.014,"X":0.785},{"s":1,"L":0.731,"X":0.767},{"s":1,"L":-0.117,"X":0.762},{"s":1,"L":-1.059,"X":0.762},{"s":1,"L":-2.449,"X":0.762},{"s":1,"L":-2.387,"X":0.785},{"s":1,"L":-1.059,"X":0.785},{"s":1,"L":-0.588,"X":0.806},{"s":1,"L":-0.117,"X":0.835},{"s":1,"L":0.354,"X":0.867},{"s":1,"L":0.59,"X":0.87},{"s":1,"L":0.826,"X":0.842},{"s":1,"L":0.967,"X":0.785},{"s":1,"L":1.038,"X":0.708},{"s":1,"L":1.061,"X":0.638},{"s":1,"L":1.014,"X":0.582},{"s":1,"L":0.873,"X":0.54},{"s":1,"L":0.59,"X":0.533},{"s":1,"L":-1.059,"X":0.53},{"s":1,"L":-2.825,"X":0.533},
{"s":2,"L":-2.387,"X":0.782},{"s":2,"L":-1.059,"X":0.778},{"s":2,"L":-0.117,"X":0.818},{"s":2,"L":0.354,"X":0.86},{"s":2,"L":0.59,"X":0.86},{"s":2,"L":0.802,"X":0.832},{"s":2,"L":0.943,"X":0.778},{"s":2,"L":1.023,"X":0.694},{"s":2,"L":1.038,"X":0.624},{"s":2,"L":0.976,"X":0.568},{"s":2,"L":0.826,"X":0.537},{"s":2,"L":0.59,"X":0.531},
{"s":3,"L":-1.059,"X":0.785},{"s":3,"L":0.731,"X":0.785},{"s":3,"L":0.967,"X":0.806},{"s":3,"L":1.132,"X":0.82}],
"dLab":[{"L":-3.137,"X":0.29,"t":"10"},{"L":-1.187,"X":0.29,"t":"10"},{"L":0.948,"X":0.29,"t":"10"},{"L":-1.256,"X":1.122,"t":"(d)"}],
"dSup":[{"L":-2.798,"X":0.344,"t":"−3"},{"L":-0.8,"X":0.34,"t":"−1"},{"L":1.202,"X":0.34,"t":"1"},{"L":-1.515,"X":0.315,"t":"s"},{"L":-1.6,"X":0.206,"t":"i"}],
"dV":[{"L":-1.725,"X":0.265,"t":"v"}],
"dRot":[{"L":-4.24,"X":0.855,"t":"X"}],
"dRotS":[{"L":-4.42,"X":0.952,"t":"s"},{"L":-3.815,"X":0.889,"t":"i"}]
},
"concat":[
{"width":464,"height":260,"encoding":{"x":{"field":"x","type":"quantitative","scale":{"domain":[116.7,580.7],"nice":false,"zero":false},"axis":null},"y":{"field":"y","type":"quantitative","scale":{"domain":[260,0],"nice":false,"zero":false},"axis":null}},
"layer":[
{"data":{"name":"aGrid"},"mark":{"type":"rule","color":"#aaa","strokeWidth":1,"strokeDash":[1,2]},"encoding":{"x2":{"field":"x2"},"y2":{"field":"y2"}}},
{"data":{"name":"aAxis"},"mark":{"type":"rule","color":"#000","strokeWidth":1.3},"encoding":{"x2":{"field":"x2"},"y2":{"field":"y2"}}},
{"data":{"name":"aTickV"},"mark":{"type":"tick","orient":"horizontal","size":4,"thickness":1,"color":"#000","opacity":1}},
{"data":{"name":"aTickH"},"mark":{"type":"tick","orient":"vertical","size":3,"thickness":1,"color":"#000","opacity":1}},
{"data":{"name":"aSurf"},"mark":{"type":"line","stroke":"#000","strokeWidth":0.8,"clip":false},"encoding":{"detail":{"field":"i"},"order":{"value":null},"fill":{"field":"c","type":"nominal","legend":null,"scale":{"domain":["c","g","l","d","e","f","n"],"range":["#12e8f5","#38efb3","#66f080","#0b5a68","#0a9fb0","#2bcf9a","transparent"]}}}},
{"data":{"name":"aText"},"mark":{"type":"text","fontSize":25,"align":"center","baseline":"middle"},"encoding":{"text":{"field":"t"}}},
{"data":{"name":"aWord"},"mark":{"type":"text","fontSize":27,"align":"center","baseline":"middle"},"encoding":{"text":{"field":"t"}}},
{"data":{"name":"aRot"},"mark":{"type":"text","fontSize":23,"angle":270,"align":"center","baseline":"middle"},"encoding":{"text":{"field":"t"}}}
]},
{"width":363,"height":260,"encoding":{"x":{"field":"x","type":"quantitative","scale":{"domain":[672.3,1035.3],"nice":false,"zero":false},"axis":null},"y":{"field":"y","type":"quantitative","scale":{"domain":[260,0],"nice":false,"zero":false},"axis":null}},
"layer":[
{"data":{"name":"bGrid"},"mark":{"type":"rule","color":"#aaa","strokeWidth":1,"strokeDash":[1,2]},"encoding":{"x2":{"field":"x2"},"y2":{"field":"y2"}}},
{"data":{"name":"bAxis"},"mark":{"type":"rule","color":"#000","strokeWidth":1.3},"encoding":{"x2":{"field":"x2"},"y2":{"field":"y2"}}},
{"data":{"name":"bTickV"},"mark":{"type":"tick","orient":"horizontal","size":4,"thickness":1,"color":"#000","opacity":1}},
{"data":{"name":"bTickH"},"mark":{"type":"tick","orient":"vertical","size":3,"thickness":1,"color":"#000","opacity":1}},
{"data":{"name":"bSurf"},"mark":{"type":"line","stroke":"#000","strokeWidth":0.8,"clip":false},"encoding":{"detail":{"field":"i"},"order":{"value":null},"fill":{"field":"c","type":"nominal","legend":null,"scale":{"domain":["c","g","l","d","e","f","n"],"range":["#12e8f5","#38efb3","#66f080","#0b5a68","#0a9fb0","#2bcf9a","transparent"]}}}},
{"data":{"name":"bText"},"mark":{"type":"text","fontSize":25,"align":"center","baseline":"middle"},"encoding":{"text":{"field":"t"}}},
{"data":{"name":"bWord"},"mark":{"type":"text","fontSize":27,"align":"center","baseline":"middle"},"encoding":{"text":{"field":"t"}}},
{"data":{"name":"bRot"},"mark":{"type":"text","fontSize":23,"angle":270,"align":"center","baseline":"middle"},"encoding":{"text":{"field":"t"}}}
]},
{"width":464,"height":196,"view":{"stroke":"#000","strokeWidth":2},
"resolve":{"axis":{"x":"independent","y":"independent"}},
"layer":[
{"data":{"name":"c"},"mark":{"type":"line","color":"#000","strokeWidth":1.2,"clip":false},"encoding":{"order":{"value":null},
"x":{"field":"t","type":"quantitative","scale":{"domain":[300,500],"nice":false,"zero":false},"axis":{"orient":"bottom","grid":false,"domain":false,"values":[300,310,320,330,340,350,360,370,380,390,400,410,420,430,440,450,460,470,480,490,500],"labelExpr":"datum.value%100==0?datum.value:''","tickSize":-4,"tickColor":"#000","labelFontSize":25,"labelColor":"#222","labelPadding":4,"labelOverlap":false,"labelFlush":false,"labelBound":false,"title":"time","titleFontSize":27,"titleFontWeight":"normal","titleColor":"#222","titlePadding":-2}},
"y":{"field":"R","type":"quantitative","scale":{"domain":[0,0.1],"nice":false,"zero":false},"axis":{"orient":"left","grid":false,"domain":false,"values":[0,0.01,0.02,0.03,0.04,0.05,0.06,0.07,0.08,0.09],"labelExpr":"datum.value==0?'0':(abs(datum.value-0.09)<0.001?'0.09':'')","tickSize":-4,"tickColor":"#000","labelFontSize":25,"labelColor":"#222","labelPadding":4,"labelOverlap":false,"labelFlush":false,"labelBound":false,"title":null}}}},
{"data":{"name":"cArrow"},"mark":{"type":"rule","color":"#000","strokeWidth":1.2},"encoding":{
"x":{"field":"t","type":"quantitative","scale":{"domain":[300,500],"nice":false,"zero":false},"axis":{"orient":"top","grid":false,"domain":false,"values":[300,310,320,330,340,350,360,370,380,390,400,410,420,430,440,450,460,470,480,490,500],"labels":false,"tickSize":-4,"tickColor":"#000","title":null}},
"y":{"field":"R","type":"quantitative","scale":{"domain":[0,0.1],"nice":false,"zero":false},"axis":{"orient":"right","grid":false,"domain":false,"values":[0,0.01,0.02,0.03,0.04,0.05,0.06,0.07,0.08,0.09],"labels":false,"tickSize":-4,"tickColor":"#000","title":null}},"y2":{"field":"tip"}}},
{"data":{"name":"cArrow"},"mark":{"type":"point","shape":"triangle-down","filled":true,"color":"#000","size":45,"opacity":1},"encoding":{"x":{"field":"t","type":"quantitative","axis":null},"y":{"field":"tip","type":"quantitative","axis":null}}},
{"data":{"values":[{"t":470.3,"R":0.0903,"s":"(c)"}]},"mark":{"type":"text","fontSize":25},"encoding":{"x":{"field":"t","type":"quantitative","axis":null},"y":{"field":"R","type":"quantitative","axis":null},"text":{"field":"s"}}},
{"data":{"values":[{"t":285.5,"R":0.0486,"s":"R"}]},"mark":{"type":"text","fontSize":29,"angle":270},"encoding":{"x":{"field":"t","type":"quantitative","axis":null},"y":{"field":"R","type":"quantitative","axis":null},"text":{"field":"s"}}},
{"data":{"values":[{"t":295,"R":0.0588,"s":"ae"}]},"mark":{"type":"text","fontSize":20,"angle":270},"encoding":{"x":{"field":"t","type":"quantitative","axis":null},"y":{"field":"R","type":"quantitative","axis":null},"text":{"field":"s"}}}
]},
{"width":363,"height":190,"view":{"stroke":"#000","strokeWidth":2},
"resolve":{"axis":{"x":"independent","y":"independent"}},
"layer":[
{"data":{"name":"dThin"},"mark":{"type":"line","color":"#000","strokeWidth":1.2,"interpolate":"catmull-rom","clip":false},"encoding":{"order":{"value":null},"detail":{"field":"s"},
"x":{"field":"L","type":"quantitative","scale":{"domain":[-3.571,1.56],"nice":false,"zero":false},"axis":{"orient":"bottom","grid":false,"domain":false,"values":[-3,-1,1],"labels":false,"tickSize":-5,"tickColor":"#000","title":null}},
"y":{"field":"X","type":"quantitative","scale":{"domain":[0.4,1.2],"nice":false,"zero":false},"axis":{"orient":"left","grid":false,"domain":false,"values":[0.4,0.46,0.52,0.58,0.64,0.7,0.76,0.82,0.88,0.94,1,1.06,1.12,1.18],"labelExpr":"abs(datum.value-1)<0.001?'1':(abs(datum.value-0.4)<0.001?'0.4':'')","tickSize":-3,"tickColor":"#000","labelFontSize":25,"labelColor":"#222","labelPadding":5,"labelOverlap":false,"labelFlush":false,"labelBound":false,"title":null}}}},
{"data":{"name":"dThick"},"mark":{"type":"line","color":"#000","strokeWidth":3,"interpolate":"monotone","clip":false},"encoding":{"order":{"value":null},
"x":{"field":"L","type":"quantitative","scale":{"domain":[-3.571,1.56],"nice":false,"zero":false},"axis":{"orient":"top","grid":false,"domain":false,"values":[-3,-1,1],"labels":false,"tickSize":-5,"tickColor":"#000","title":null}},
"y":{"field":"X","type":"quantitative","scale":{"domain":[0.4,1.2],"nice":false,"zero":false},"axis":{"orient":"right","grid":false,"domain":false,"values":[0.4,0.46,0.52,0.58,0.64,0.7,0.76,0.82,0.88,0.94,1,1.06,1.12,1.18],"labels":false,"tickSize":-3,"tickColor":"#000","title":null}}}},
{"data":{"name":"dLab"},"mark":{"type":"text","fontSize":25},"encoding":{"x":{"field":"L","type":"quantitative","axis":null},"y":{"field":"X","type":"quantitative","axis":null},"text":{"field":"t"}}},
{"data":{"name":"dSup"},"mark":{"type":"text","fontSize":19},"encoding":{"x":{"field":"L","type":"quantitative","axis":null},"y":{"field":"X","type":"quantitative","axis":null},"text":{"field":"t"}}},
{"data":{"name":"dV"},"mark":{"type":"text","fontSize":32},"encoding":{"x":{"field":"L","type":"quantitative","axis":null},"y":{"field":"X","type":"quantitative","axis":null},"text":{"field":"t"}}},
{"data":{"name":"dRot"},"mark":{"type":"text","fontSize":30,"angle":270},"encoding":{"x":{"field":"L","type":"quantitative","axis":null},"y":{"field":"X","type":"quantitative","axis":null},"text":{"field":"t"}}},
{"data":{"name":"dRotS"},"mark":{"type":"text","fontSize":20,"angle":270},"encoding":{"x":{"field":"L","type":"quantitative","axis":null},"y":{"field":"X","type":"quantitative","axis":null},"text":{"field":"t"}}}
]}
]}
